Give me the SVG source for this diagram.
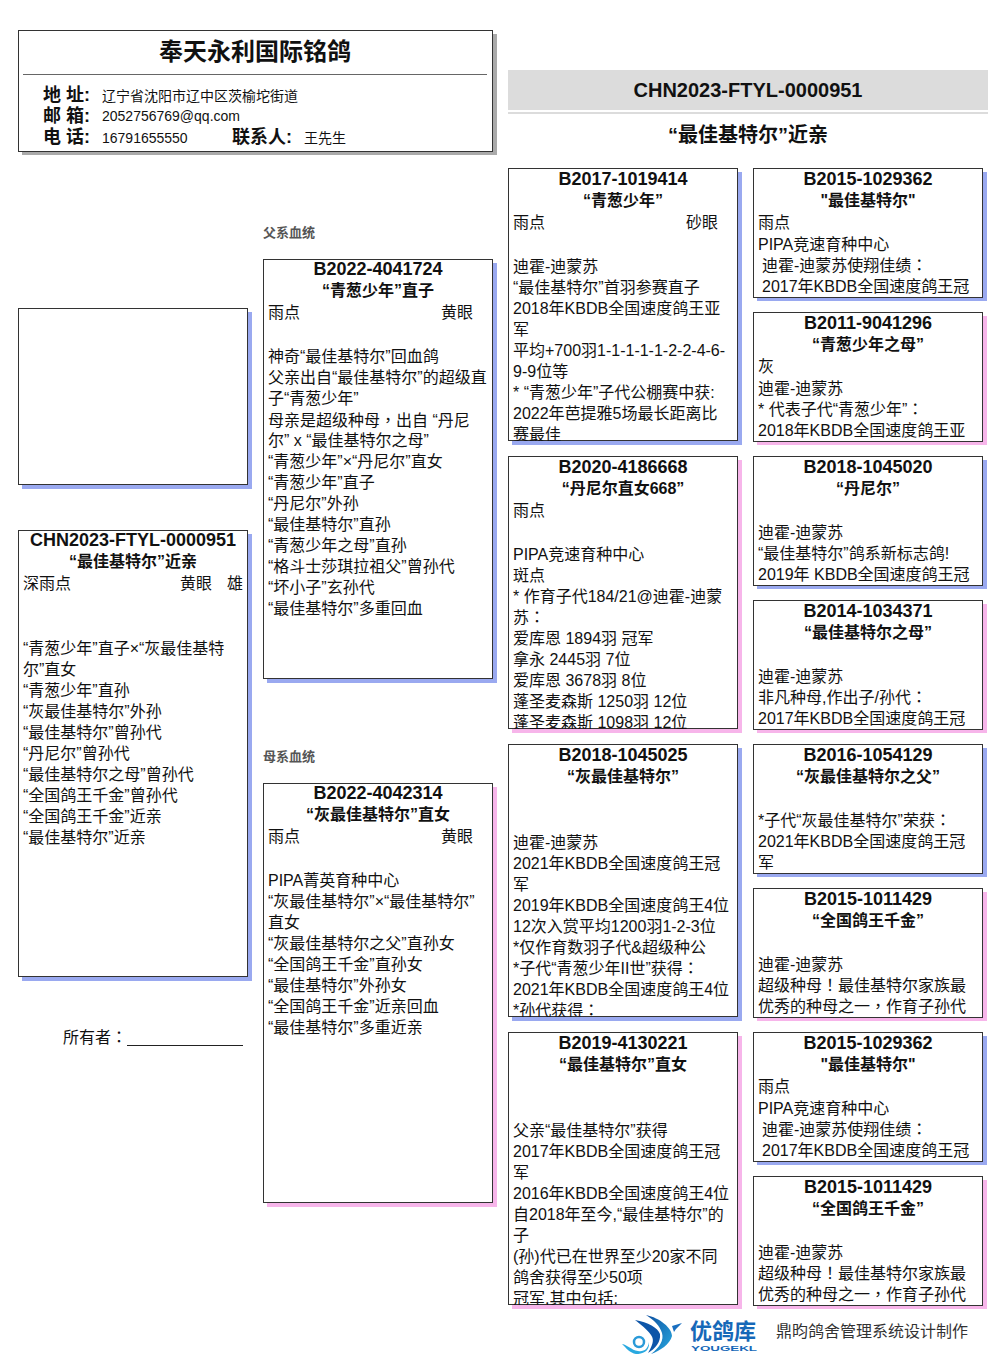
<svg xmlns="http://www.w3.org/2000/svg" width="1006" height="1366" viewBox="0 0 1006 1366">
<style>
text{font-family:"Liberation Sans","Noto Sans CJK SC",sans-serif;fill:#111}
.b{font-size:16px}
.t{font-size:18px;font-weight:bold;text-anchor:middle}
.s{font-size:16px;font-weight:bold;text-anchor:middle}
.box{fill:#fff;stroke:#333;stroke-width:1}
.blue{fill:#9aa9f0}.pink{fill:#f7b5ea}.gray{fill:#aaa}
.l{font-size:18px;font-weight:bold}
.v{font-size:14px}
.p{font-family:"Noto Sans CJK TC",sans-serif}
</style>
<defs>
<clipPath id="c1"><rect x="509" y="169" width="229" height="272"/></clipPath>
<clipPath id="c2"><rect x="509" y="457" width="229" height="272"/></clipPath>
<clipPath id="c3"><rect x="509" y="745" width="229" height="272"/></clipPath>
<clipPath id="c4"><rect x="509" y="1033" width="229" height="272"/></clipPath>
<linearGradient id="lg" x1="0" y1="0" x2="1" y2="1"><stop offset="0" stop-color="#0d4fa0"/><stop offset="1" stop-color="#29a9e0"/></linearGradient>
</defs>
<rect width="1006" height="1366" fill="#fff"/>

<g id="header">
<rect class="gray" x="22" y="34" width="475" height="121"/>
<rect class="box" x="18.500" y="30.500" width="474" height="121"/>
<line x1="23" y1="74.500" x2="487" y2="74.500" stroke="#666"/>
<text x="255" y="60" style="font-size:24px;font-weight:bold;text-anchor:middle">奉天永利国际铭鸽</text>
<text class="l" x="43" y="101">地 址:</text><text class="v" x="102" y="101">辽宁省沈阳市辽中区茨榆坨街道</text>
<text class="l" x="43" y="122">邮 箱:</text><text class="v" x="102" y="121">2052756769@qq.com</text>
<text class="l" x="43" y="143">电 话:</text><text class="v" x="102" y="143">16791655550</text>
<text class="l" x="232" y="143">联系人:</text><text class="v" x="304" y="143">王先生</text>
</g>

<g id="title">
<rect x="508" y="70" width="480" height="40" fill="#dcdcdc"/>
<rect x="508" y="112" width="480" height="2" fill="#dcdcdc"/>
<text x="748" y="97" style="font-size:20px;font-weight:bold;text-anchor:middle">CHN2023-FTYL-0000951</text>
<text x="748" y="142" style="font-size:20px;font-weight:bold;text-anchor:middle">“最佳基特尔”近亲</text>
</g>

<g id="photo">
<rect class="blue" x="22" y="312" width="230" height="177"/>
<rect class="box" x="18.500" y="308.500" width="229" height="176"/>
</g>

<g id="self">
<rect class="blue" x="22" y="534" width="230" height="447"/>
<rect class="box" x="18.500" y="530.500" width="229" height="446"/>
<text class="t" x="133" y="546">CHN2023-FTYL-0000951</text>
<text class="s" x="133" y="567">“最佳基特尔”近亲</text>
<text class="b" x="23" y="589">深雨点</text><text class="b" x="180" y="589">黄眼</text><text class="b" x="227" y="589">雄</text>
<text class="b" x="23" y="654">“青葱少年”直子×“灰最佳基特</text>
<text class="b" x="23" y="675">尔”直女</text>
<text class="b" x="23" y="696">“青葱少年”直孙</text>
<text class="b" x="23" y="717">“灰最佳基特尔”外孙</text>
<text class="b" x="23" y="738">“最佳基特尔”曾孙代</text>
<text class="b" x="23" y="759">“丹尼尔”曾孙代</text>
<text class="b" x="23" y="780">“最佳基特尔之母”曾孙代</text>
<text class="b" x="23" y="801">“全国鸽王千金”曾孙代</text>
<text class="b" x="23" y="822">“全国鸽王千金”近亲</text>
<text class="b" x="23" y="843">“最佳基特尔”近亲</text>
</g>

<g id="owner">
<text class="b" x="63" y="1043">所有者<tspan class="p">&#xFF1A;</tspan></text>
<line x1="127" y1="1045.500" x2="243" y2="1045.500" stroke="#222"/>
</g>

<text x="263" y="237" style="font-size:13px;font-weight:bold;fill:#555">父系血统</text>
<text x="263" y="761" style="font-size:13px;font-weight:bold;fill:#555">母系血统</text>

<g id="sire">
<rect class="blue" x="267" y="263" width="230" height="420"/>
<rect class="box" x="263.500" y="259.500" width="229" height="419"/>
<text class="t" x="378" y="275">B2022-4041724</text>
<text class="s" x="378" y="296">“青葱少年”直子</text>
<text class="b" x="268" y="318">雨点</text><text class="b" x="441" y="318">黄眼</text>
<text class="b" x="268" y="362">神奇“最佳基特尔”回血鸽</text>
<text class="b" x="268" y="383">父亲出自“最佳基特尔”的超级直</text>
<text class="b" x="268" y="404">子“青葱少年”</text>
<text class="b" x="268" y="426">母亲是超级种母<tspan class="p">&#xFF0C;</tspan>出自 “丹尼</text>
<text class="b" x="268" y="446">尔” x “最佳基特尔之母”</text>
<text class="b" x="268" y="467">“青葱少年”×“丹尼尔”直女</text>
<text class="b" x="268" y="488">“青葱少年”直子</text>
<text class="b" x="268" y="509">“丹尼尔”外孙</text>
<text class="b" x="268" y="530">“最佳基特尔”直孙</text>
<text class="b" x="268" y="551">“青葱少年之母”直孙</text>
<text class="b" x="268" y="572">“格斗士莎琪拉祖父”曾孙代</text>
<text class="b" x="268" y="593">“坏小子”玄孙代</text>
<text class="b" x="268" y="614">“最佳基特尔”多重回血</text>
</g>

<g id="dam">
<rect class="pink" x="267" y="787" width="230" height="420"/>
<rect class="box" x="263.500" y="783.500" width="229" height="419"/>
<text class="t" x="378" y="799">B2022-4042314</text>
<text class="s" x="378" y="820">“灰最佳基特尔”直女</text>
<text class="b" x="268" y="842">雨点</text><text class="b" x="441" y="842">黄眼</text>
<text class="b" x="268" y="886">PIPA菁英育种中心</text>
<text class="b" x="268" y="907">“灰最佳基特尔”×“最佳基特尔”</text>
<text class="b" x="268" y="928">直女</text>
<text class="b" x="268" y="949">“灰最佳基特尔之父”直孙女</text>
<text class="b" x="268" y="970">“全国鸽王千金”直孙女</text>
<text class="b" x="268" y="991">“最佳基特尔”外孙女</text>
<text class="b" x="268" y="1012">“全国鸽王千金”近亲回血</text>
<text class="b" x="268" y="1033">“最佳基特尔”多重近亲</text>
</g>

<g id="gs1">
<rect class="blue" x="512" y="172" width="230" height="273"/>
<rect class="box" x="508.500" y="168.500" width="229" height="272"/>
<text class="t" x="623" y="185">B2017-1019414</text>
<text class="s" x="623" y="206">“青葱少年”</text>
<g clip-path="url(#c1)">
<text class="b" x="513" y="228">雨点</text><text class="b" x="686" y="228">砂眼</text>
<text class="b" x="513" y="272">迪霍-迪蒙苏</text>
<text class="b" x="513" y="293">“最佳基特尔”首羽参赛直子</text>
<text class="b" x="513" y="314">2018年KBDB全国速度鸽王亚</text>
<text class="b" x="513" y="335">军</text>
<text class="b" x="513" y="356">平均+700羽1-1-1-1-1-2-2-4-6-</text>
<text class="b" x="513" y="377">9-9位等</text>
<text class="b" x="513" y="398">* “青葱少年”子代公棚赛中获:</text>
<text class="b" x="513" y="419">2022年芭提雅5场最长距离比</text>
<text class="b" x="513" y="440">赛最佳</text>
</g>
</g>

<g id="gd1">
<rect class="pink" x="512" y="460" width="230" height="273"/>
<rect class="box" x="508.500" y="456.500" width="229" height="272"/>
<text class="t" x="623" y="473">B2020-4186668</text>
<text class="s" x="623" y="494">“丹尼尔直女668”</text>
<g clip-path="url(#c2)">
<text class="b" x="513" y="516">雨点</text>
<text class="b" x="513" y="560">PIPA竞速育种中心</text>
<text class="b" x="513" y="581">斑点</text>
<text class="b" x="513" y="602">* 作育子代184/21@迪霍-迪蒙</text>
<text class="b" x="513" y="623">苏<tspan class="p">&#xFF1A;</tspan></text>
<text class="b" x="513" y="644">爱库恩 1894羽 冠军</text>
<text class="b" x="513" y="665">拿永 2445羽 7位</text>
<text class="b" x="513" y="686">爱库恩 3678羽 8位</text>
<text class="b" x="513" y="707">蓬圣麦森斯 1250羽 12位</text>
<text class="b" x="513" y="728">蓬圣麦森斯 1098羽 12位</text>
</g>
</g>

<g id="gs2">
<rect class="blue" x="512" y="748" width="230" height="273"/>
<rect class="box" x="508.500" y="744.500" width="229" height="272"/>
<text class="t" x="623" y="761">B2018-1045025</text>
<text class="s" x="623" y="782">“灰最佳基特尔”</text>
<g clip-path="url(#c3)">
<text class="b" x="513" y="848">迪霍-迪蒙苏</text>
<text class="b" x="513" y="869">2021年KBDB全国速度鸽王冠</text>
<text class="b" x="513" y="890">军</text>
<text class="b" x="513" y="911">2019年KBDB全国速度鸽王4位</text>
<text class="b" x="513" y="932">12次入赏平均1200羽1-2-3位</text>
<text class="b" x="513" y="953">*仅作育数羽子代&amp;超级种公</text>
<text class="b" x="513" y="974">*子代“青葱少年II世”获得<tspan class="p">&#xFF1A;</tspan></text>
<text class="b" x="513" y="995">2021年KBDB全国速度鸽王4位</text>
<text class="b" x="513" y="1016">*孙代获得<tspan class="p">&#xFF1A;</tspan></text>
</g>
</g>

<g id="gd2">
<rect class="pink" x="512" y="1036" width="230" height="273"/>
<rect class="box" x="508.500" y="1032.500" width="229" height="272"/>
<text class="t" x="623" y="1049">B2019-4130221</text>
<text class="s" x="623" y="1070">“最佳基特尔”直女</text>
<g clip-path="url(#c4)">
<text class="b" x="513" y="1136">父亲“最佳基特尔”获得</text>
<text class="b" x="513" y="1157">2017年KBDB全国速度鸽王冠</text>
<text class="b" x="513" y="1178">军</text>
<text class="b" x="513" y="1199">2016年KBDB全国速度鸽王4位</text>
<text class="b" x="513" y="1220">自2018年至今,“最佳基特尔”的</text>
<text class="b" x="513" y="1241">子</text>
<text class="b" x="513" y="1262">(孙)代已在世界至少20家不同</text>
<text class="b" x="513" y="1283">鸽舍获得至少50项</text>
<text class="b" x="513" y="1304">冠军,其中包括:</text>
</g>
</g>

<g id="n1">
<rect class="blue" x="757" y="172" width="230" height="129"/>
<rect class="box" x="753.500" y="168.500" width="229" height="129"/>
<text class="t" x="868" y="185">B2015-1029362</text>
<text class="s" x="868" y="206">"最佳基特尔"</text>
<text class="b" x="758" y="228">雨点</text>
<text class="b" x="758" y="250">PIPA竞速育种中心</text>
<text class="b" x="762" y="271">迪霍-迪蒙苏使翔佳绩<tspan class="p">&#xFF1A;</tspan></text>
<text class="b" x="762" y="292">2017年KBDB全国速度鸽王冠</text>
</g>
<g id="n2">
<rect class="pink" x="757" y="316" width="230" height="129"/>
<rect class="box" x="753.500" y="312.500" width="229" height="129"/>
<text class="t" x="868" y="329">B2011-9041296</text>
<text class="s" x="868" y="350">“青葱少年之母”</text>
<text class="b" x="758" y="372">灰</text>
<text class="b" x="758" y="394">迪霍-迪蒙苏</text>
<text class="b" x="758" y="415">* 代表子代“青葱少年”<tspan class="p">&#xFF1A;</tspan></text>
<text class="b" x="758" y="436">2018年KBDB全国速度鸽王亚</text>
</g>
<g id="n3">
<rect class="blue" x="757" y="460" width="230" height="129"/>
<rect class="box" x="753.500" y="456.500" width="229" height="129"/>
<text class="t" x="868" y="473">B2018-1045020</text>
<text class="s" x="868" y="494">“丹尼尔”</text>
<text class="b" x="758" y="538">迪霍-迪蒙苏</text>
<text class="b" x="758" y="559">“最佳基特尔”鸽系新标志鸽!</text>
<text class="b" x="758" y="580">2019年 KBDB全国速度鸽王冠</text>
</g>
<g id="n4">
<rect class="pink" x="757" y="604" width="230" height="129"/>
<rect class="box" x="753.500" y="600.500" width="229" height="129"/>
<text class="t" x="868" y="617">B2014-1034371</text>
<text class="s" x="868" y="638">“最佳基特尔之母”</text>
<text class="b" x="758" y="682">迪霍-迪蒙苏</text>
<text class="b" x="758" y="703">非凡种母,作出子/孙代<tspan class="p">&#xFF1A;</tspan></text>
<text class="b" x="758" y="724">2017年KBDB全国速度鸽王冠</text>
</g>
<g id="n5">
<rect class="blue" x="757" y="748" width="230" height="129"/>
<rect class="box" x="753.500" y="744.500" width="229" height="129"/>
<text class="t" x="868" y="761">B2016-1054129</text>
<text class="s" x="868" y="782">“灰最佳基特尔之父”</text>
<text class="b" x="758" y="826">*子代“灰最佳基特尔”荣获<tspan class="p">&#xFF1A;</tspan></text>
<text class="b" x="758" y="847">2021年KBDB全国速度鸽王冠</text>
<text class="b" x="758" y="868">军</text>
</g>
<g id="n6">
<rect class="pink" x="757" y="892" width="230" height="129"/>
<rect class="box" x="753.500" y="888.500" width="229" height="129"/>
<text class="t" x="868" y="905">B2015-1011429</text>
<text class="s" x="868" y="926">“全国鸽王千金”</text>
<text class="b" x="758" y="970">迪霍-迪蒙苏</text>
<text class="b" x="758" y="991">超级种母<tspan class="p">&#xFF01;</tspan>最佳基特尔家族最</text>
<text class="b" x="758" y="1012">优秀的种母之一<tspan class="p">&#xFF0C;</tspan>作育子孙代</text>
</g>
<g id="n7">
<rect class="blue" x="757" y="1036" width="230" height="129"/>
<rect class="box" x="753.500" y="1032.500" width="229" height="129"/>
<text class="t" x="868" y="1049">B2015-1029362</text>
<text class="s" x="868" y="1070">"最佳基特尔"</text>
<text class="b" x="758" y="1092">雨点</text>
<text class="b" x="758" y="1114">PIPA竞速育种中心</text>
<text class="b" x="762" y="1135">迪霍-迪蒙苏使翔佳绩<tspan class="p">&#xFF1A;</tspan></text>
<text class="b" x="762" y="1156">2017年KBDB全国速度鸽王冠</text>
</g>
<g id="n8">
<rect class="pink" x="757" y="1180" width="230" height="129"/>
<rect class="box" x="753.500" y="1176.500" width="229" height="129"/>
<text class="t" x="868" y="1193">B2015-1011429</text>
<text class="s" x="868" y="1214">“全国鸽王千金”</text>
<text class="b" x="758" y="1258">迪霍-迪蒙苏</text>
<text class="b" x="758" y="1279">超级种母<tspan class="p">&#xFF01;</tspan>最佳基特尔家族最</text>
<text class="b" x="758" y="1300">优秀的种母之一<tspan class="p">&#xFF0C;</tspan>作育子孙代</text>
</g>

<g id="footer">
<path d="M646 1315 C660 1318 672 1328 672 1336 C670 1344 660 1351 651 1354 C660 1347 664 1340 662 1333 C660 1326 654 1320 646 1315Z" fill="url(#lg)"/>
<path d="M635 1320 C648 1322 658 1328 660 1334 C661 1342 655 1349 648 1353 C652 1346 655 1340 651 1335 C647 1329 640 1324 635 1320Z" fill="#0d55a8"/>
<path d="M672 1326 L682 1323 L676 1329 L674 1332Z" fill="#1a6fc0"/>
<circle cx="639" cy="1342" r="5" fill="none" stroke="#2a9ad8" stroke-width="2.500"/>
<path d="M622 1344 C628 1345 631 1350 638 1351 C644 1352 648 1349 649 1342 C650 1352 642 1354 636 1354 C630 1353 626 1348 622 1344Z" fill="#29a9e0"/>
<text x="690" y="1339" style="font-size:22px;font-weight:bold;fill:#1668b8">优鸽库</text>
<text x="691" y="1351" style="font-size:7px;font-weight:bold;fill:#1668b8" textLength="66" lengthAdjust="spacingAndGlyphs">YOUGEKL</text>
<text x="776" y="1337" style="font-size:16px;fill:#333">鼎昀鸽舍管理系统设计制作</text>
</g>
</svg>
